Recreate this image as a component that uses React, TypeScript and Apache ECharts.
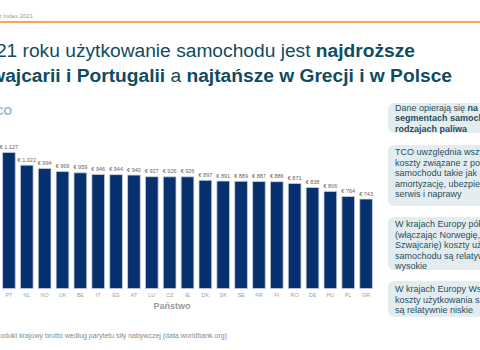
import React, { useEffect, useRef } from "react";
import * as echarts from "echarts";

const countries = ["PT", "NL", "NO", "UK", "BE", "IT", "ES", "AT", "LU", "CZ", "IE", "DK", "SK", "SE", "FR", "FI", "RO", "DE", "HU", "PL", "GR"];
const tcoValues = [1127, 1022, 994, 969, 959, 946, 944, 940, 927, 926, 926, 897, 891, 889, 887, 886, 871, 838, 806, 764, 743];

const titleLine1 = ["W 2021 roku użytkowanie samochodu jest ", "najdroższe"];
const titleLine2 = ["w Szwajcarii i Portugalii", " a ", "najtańsze w Grecji i w Polsce"];
const headerText = "LeasePlan Car Cost Index 2021";
const subTitle = "TCO";
const axisName = "Państwo";
const footnote = "*PKB: Produkt krajowy brutto według parytetu siły nabywczej (data.worldbank.org)";

const box1 = [["Dane opierają się ", "na najpopularniejszych"], ["", "segmentach samochodów i"], ["", "rodzajach paliwa"]];
const box2 = ["TCO uwzględnia wszystkie", "koszty związane z posiadaniem", "samochodu takie jak paliwo,", "amortyzację, ubezpieczenie,", "serwis i naprawy"];
const box3 = ["W krajach Europy północnej", "(włączając Norwegię, Wielką Brytanię i", "Szwajcarię) koszty użytkowania", "samochodu są relatywnie", "wysokie"];
const box4 = ["W krajach Europy Wschodniej", "koszty użytkowania samochodu", "są relatywnie niskie"];

const FONT = "'Liberation Sans', Arial, sans-serif";
const TEAL = "#0f4c5e";
const BOXTEXT = "#1f4f5e";

function fmt(v: number) {
  const s = String(v);
  return "€ " + (s.length > 3 ? s.slice(0, s.length - 3) + "." + s.slice(-3) : s);
}

export default function App() {
  const ref = useRef<HTMLDivElement>(null);
  useEffect(() => {
    if (!ref.current) return;
    const chart = echarts.init(ref.current, undefined, { renderer: "svg" });

    const graphics: any[] = [];
    graphics.push({ type: "text", x: 33, y: 16, style: { text: headerText, align: "right", verticalAlign: "middle", fontSize: 6, fill: "#9a9a9a", fontFamily: FONT } });
    graphics.push({ type: "line", shape: { x1: 0, y1: 22, x2: 480, y2: 22 }, style: { stroke: "#f08a24", lineWidth: 1.5 } });
    const titleRich = {
      n: { fontSize: 19.2, fontFamily: FONT, fill: TEAL },
      b: { fontSize: 19.2, fontFamily: FONT, fill: TEAL, fontWeight: "bold" },
    };
    graphics.push({
      type: "text", x: 415, y: 50,
      style: { text: `{n|${titleLine1[0]}}{b|${titleLine1[1]}}`, align: "right", verticalAlign: "middle", rich: titleRich },
    });
    graphics.push({
      type: "text", x: 452, y: 75,
      style: { text: `{b|${titleLine2[0]}}{n|${titleLine2[1]}}{b|${titleLine2[2]}}`, align: "right", verticalAlign: "middle", rich: titleRich },
    });
    graphics.push({ type: "text", x: 12, y: 111, style: { text: subTitle, align: "right", verticalAlign: "middle", fontSize: 11, fontWeight: "bold", fill: "#8fb8cf", fontFamily: FONT } });
    graphics.push({ type: "text", x: 172, y: 306, style: { text: axisName, align: "center", verticalAlign: "middle", fontSize: 9, fontWeight: "bold", fill: "#9a9a9a", fontFamily: FONT } });
    graphics.push({ type: "text", x: 227, y: 335, style: { text: footnote, align: "right", verticalAlign: "middle", fontSize: 7, fill: "#8a8a8a", fontFamily: FONT } });

    const boxes = [
      { y: 103, h: 30, ty: 107.5 },
      { y: 145, h: 61, ty: 152 },
      { y: 217, h: 53, ty: 224 },
      { y: 281, h: 36, ty: 289 },
    ];
    boxes.forEach((b) => {
      graphics.push({ type: "rect", shape: { x: 388, y: b.y, width: 130, height: b.h, r: 6 }, style: { fill: "#e5ecef" } });
    });
    const lh = 10.5;
    const fs = 9;
    box1.forEach((ln, i) => {
      graphics.push({
        type: "text", x: 395, y: boxes[0].ty + i * lh,
        style: {
          text: (ln[0] ? `{n|${ln[0]}}` : "") + `{b|${ln[1]}}`, verticalAlign: "middle",
          rich: { n: { fontSize: fs, fontFamily: FONT, fill: BOXTEXT }, b: { fontSize: fs, fontFamily: FONT, fill: BOXTEXT, fontWeight: "bold" } },
        },
      });
    });
    [box2, box3, box4].forEach((lines, k) => {
      lines.forEach((t, i) => {
        graphics.push({ type: "text", x: 395, y: boxes[k + 1].ty + i * lh, style: { text: t, verticalAlign: "middle", fontSize: fs, fontFamily: FONT, fill: BOXTEXT } });
      });
    });

    chart.setOption({
      animation: false,
      grid: { left: -3.5, right: 105, top: 143.1, bottom: 61, containLabel: false },
      xAxis: {
        type: "category",
        data: countries,
        axisLine: { show: false },
        axisTick: { show: false },
        axisLabel: { fontSize: 5.5, color: "#a0a0a0", margin: 3, fontFamily: FONT, interval: 0 },
      },
      yAxis: { type: "value", min: 0, max: 1200, show: false, splitLine: { show: false } },
      series: [
        {
          type: "bar",
          data: tcoValues,
          barWidth: 13.5,
          itemStyle: { color: "#07306e", borderColor: "#c9d1dc", borderWidth: 0.8 },
          label: { show: true, position: "top", distance: 2, fontSize: 5.5, color: "#666", fontFamily: FONT, formatter: (p: any) => fmt(p.value) },
        },
      ],
      graphic: graphics,
    });
    return () => chart.dispose();
  }, []);
  return <div ref={ref} style={{ position: "absolute", left: 0, top: 0, width: 480, height: 350 }} />;
}
